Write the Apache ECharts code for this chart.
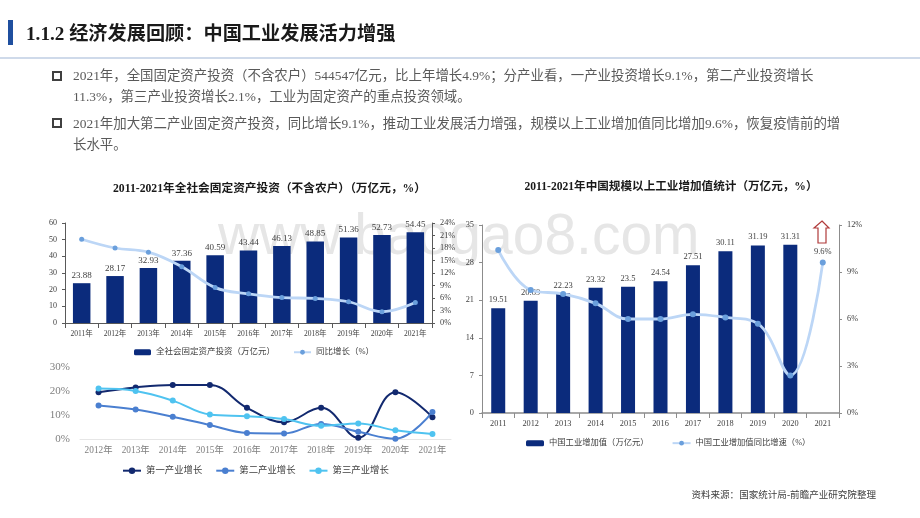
<!DOCTYPE html>
<html>
<head>
<meta charset="utf-8">
<title>经济发展回顾</title>
<script src="https://cdn.jsdelivr.net/npm/echarts@6/dist/echarts.min.js"></script>
<style>
  html, body { margin: 0; padding: 0; background: #fff; }
  #main { width: 920px; height: 518px; }
</style>
</head>
<body>
<div id="main"></div>
<script>
// 数据
var yearsInvest = ["2011年","2012年","2013年","2014年","2015年","2016年","2017年","2018年","2019年","2020年","2021年"];
var investValue = [23.88,28.17,32.93,37.36,40.59,43.44,46.13,48.85,51.36,52.73,54.45];
var investGrowth = [20.1,18.0,17.0,13.5,8.5,7.0,6.1,5.9,5.1,2.7,4.9];

var yearsSector = ["2012年","2013年","2014年","2015年","2016年","2017年","2018年","2019年","2020年","2021年"];
var sectorFirst = [19.5,21.5,22.5,22.5,13,7,13,0.5,19.5,9.1];
var sectorSecond = [14,12.3,9.3,5.8,2.5,2.3,6.3,3,0.1,11.3];
var sectorThird = [21,20,16,10.2,9.5,8.3,5.5,6.5,3.6,2.1];

var yearsIndustry = ["2011","2012","2013","2014","2015","2016","2017","2018","2019","2020","2021"];
var industryValue = [19.51,20.89,22.23,23.32,23.5,24.54,27.51,30.11,31.19,31.31,null];
var industryGrowth = [10.4,7.85,7.6,7.0,6.0,6.0,6.3,6.1,5.7,2.4,9.6];

// 全角标点
var heading = "1.1.2 经济发展回顾\uFF1A中国工业发展活力增强";
var bodyLines = [
  "2021年\uFF0C全国固定资产投资\uFF08不含农户\uFF09544547亿元\uFF0C比上年增长4.9%\uFF1B分产业看\uFF0C一产业投资增长9.1%\uFF0C第二产业投资增长",
  "11.3%\uFF0C第三产业投资增长2.1%\uFF0C工业为固定资产的重点投资领域\u3002",
  "2021年加大第二产业固定资产投资\uFF0C同比增长9.1%\uFF0C推动工业发展活力增强\uFF0C规模以上工业增加值同比增加9.6%\uFF0C恢复疫情前的增",
  "长水平\u3002"
];
var titleInvest = "2011-2021年全社会固定资产投资\uFF08不含农户\uFF09\uFF08万亿元\uFF0C%\uFF09";
var titleIndustry = "2011-2021年中国规模以上工业增加值统计\uFF08万亿元\uFF0C%\uFF09";
var sourceText = "资料来源\uFF1A国家统计局-前瞻产业研究院整理";
var nameInvest = "全社会固定资产投资\uFF08万亿元\uFF09";
var nameInvestGrowth = "同比增长\uFF08%\uFF09";
var nameIndustry = "中国工业增加值\uFF08万亿元\uFF09";
var nameIndustryGrowth = "中国工业增加值同比增速\uFF08%\uFF09";

var fontStack = '"Liberation Serif","Noto Sans CJK SC",serif';
var navy = "#0b2b7c";
var lightLine = "#bcd6f6";
var dotBlue = "#6a9fdc";

function txt(x, y, text, size, color, extra) {
  return {
    type: "text", x: x, y: y, z: 20,
    style: Object.assign({
      text: text, fontSize: size, fill: color, fontFamily: fontStack,
      textVerticalAlign: "middle", verticalAlign: "middle"
    }, extra || {})
  };
}

var graphics = [
  // 水印
  { type: "text", x: 218, y: 238, z: 0, silent: true,
    style: { text: "www.baogao8.com", fontSize: 57, fontFamily: '"Liberation Sans",sans-serif',
             fill: "#e6e6e6", verticalAlign: "middle", textVerticalAlign: "middle" } },
  { type: "rect", shape: { x: 8, y: 20, width: 5, height: 25 }, style: { fill: "#1f4f9f" } },
  { type: "rect", shape: { x: 0, y: 57, width: 920, height: 2 }, style: { fill: "#cfdaea" } },
  txt(26, 35, heading, 19.2, "#1a1a1a", { fontWeight: "bold" }),
  { type: "rect", shape: { x: 53, y: 72, width: 8, height: 8 }, style: { fill: "#fff", stroke: "#404040", lineWidth: 2 } },
  { type: "rect", shape: { x: 53, y: 119, width: 8, height: 8 }, style: { fill: "#fff", stroke: "#404040", lineWidth: 2 } },
  txt(73, 76, bodyLines[0], 13.43, "#595959"),
  txt(73, 97, bodyLines[1], 13.43, "#595959"),
  txt(73, 124, bodyLines[2], 13.43, "#595959"),
  txt(73, 145, bodyLines[3], 13.43, "#595959"),
  txt(269.5, 189, titleInvest, 11.7, "#1a1a1a", { fontWeight: "bold", align: "center", textAlign: "center" }),
  txt(671, 187, titleIndustry, 11.6, "#1a1a1a", { fontWeight: "bold", align: "center", textAlign: "center" }),
  txt(876, 495, sourceText, 9.55, "#404040", { align: "right", textAlign: "right" }),
  // 红色箭头
  { type: "polygon", z: 20,
    shape: { points: [[822,221],[829,228],[826,228],[826,243],[818,243],[818,228],[814,228]] },
    style: { fill: "#fff", stroke: "#b03a3a", lineWidth: 1.2 } }
];

function catAxis(grid, data, size, color, lineColor, extra) {
  return Object.assign({
    type: "category", gridIndex: grid, data: data,
    axisLine: { show: true, lineStyle: { color: lineColor, width: 1 } },
    axisTick: { show: true, alignWithLabel: false, lineStyle: { color: lineColor } },
    axisLabel: { fontSize: size, color: color, fontFamily: fontStack, margin: 7, interval: 0 }
  }, extra || {});
}

function valAxis(grid, max, step, fmt, size, color, lineColor, pos) {
  return {
    type: "value", gridIndex: grid, min: 0, max: max, interval: step, position: pos,
    splitLine: { show: false },
    axisLine: { show: true, lineStyle: { color: lineColor, width: 1 } },
    axisTick: { show: true, length: 3, lineStyle: { color: lineColor } },
    axisLabel: { fontSize: size, color: color, fontFamily: fontStack, margin: 8, formatter: fmt }
  };
}

function legendText(size) {
  return { fontSize: size, color: "#404040", fontFamily: fontStack };
}

function sectorLine(name, data, color) {
  return {
    name: name, type: "line", xAxisIndex: 1, yAxisIndex: 2, data: data, smooth: 0.4,
    symbol: "circle", symbolSize: 6,
    lineStyle: { color: color, width: 2 }, itemStyle: { color: color }
  };
}

var sectorAxis = valAxis(1, 30, 10, "{value}%", 11, "#7f7f7f", "#fff", "left");
sectorAxis.axisLine = { show: false };
sectorAxis.axisTick = { show: false };
sectorAxis.axisLabel.margin = 10;

var option = {
  animation: false,
  backgroundColor: "#fff",
  graphic: graphics,
  grid: [
    { left: 65, top: 223, width: 367, height: 100 },
    { left: 80, top: 367, width: 371, height: 72 },
    { left: 482, top: 225, width: 357, height: 188 }
  ],
  legend: [
    { left: 134, top: 348, padding: 0, itemWidth: 17, itemHeight: 6, itemGap: 18, textStyle: legendText(8.5),
      data: [nameInvest, nameInvestGrowth] },
    { left: 122, top: 466, padding: 0, itemWidth: 18, itemHeight: 8, itemGap: 13, textStyle: legendText(9.4),
      data: ["第一产业增长", "第二产业增长", "第三产业增长"] },
    { left: 526, top: 439, padding: 0, itemWidth: 18, itemHeight: 6, itemGap: 23, textStyle: legendText(8.3),
      data: [nameIndustry, nameIndustryGrowth] }
  ],
  xAxis: [
    catAxis(0, yearsInvest, 7.5, "#404040", "#595959"),
    catAxis(1, yearsSector, 9.3, "#7f7f7f", "#e6e6e6", { axisTick: { show: false } }),
    catAxis(2, yearsIndustry, 8.3, "#404040", "#8c8c8c", { axisLine: { lineStyle: { color: "#8c8c8c", width: 1.5 } } })
  ],
  yAxis: [
    valAxis(0, 60, 10, "{value}", 8, "#404040", "#595959", "left"),
    valAxis(0, 24, 3, "{value}%", 8.3, "#404040", "#595959", "right"),
    sectorAxis,
    valAxis(2, 35, 7, "{value}", 8.3, "#404040", "#8c8c8c", "left"),
    valAxis(2, 12, 3, "{value}%", 8.3, "#404040", "#8c8c8c", "right")
  ],
  series: [
    { name: nameInvest, type: "bar", xAxisIndex: 0, yAxisIndex: 0,
      data: investValue, barWidth: 17.5, itemStyle: { color: navy },
      label: { show: true, position: "top", distance: 3, fontSize: 9, color: "#404040", fontFamily: fontStack } },
    { name: nameInvestGrowth, type: "line", xAxisIndex: 0, yAxisIndex: 1,
      data: investGrowth, smooth: 0.4, symbol: "circle", symbolSize: 5, z: 5,
      lineStyle: { color: lightLine, width: 2.8 }, itemStyle: { color: dotBlue } },
    sectorLine("第一产业增长", sectorFirst, "#12296f"),
    sectorLine("第二产业增长", sectorSecond, "#4a7fd0"),
    sectorLine("第三产业增长", sectorThird, "#4fc3f0"),
    { name: nameIndustry, type: "bar", xAxisIndex: 2, yAxisIndex: 3,
      data: industryValue, barWidth: 14, itemStyle: { color: navy },
      label: { show: true, position: "top", distance: 4, fontSize: 8.5, color: "#404040", fontFamily: fontStack } },
    { name: nameIndustryGrowth, type: "line", xAxisIndex: 2, yAxisIndex: 4,
      data: industryGrowth, smooth: 0.4, symbol: "circle", symbolSize: 6, z: 5,
      lineStyle: { color: lightLine, width: 2.8 }, itemStyle: { color: dotBlue },
      label: { show: true, position: "top", distance: 4, fontSize: 8.5, color: "#404040", fontFamily: fontStack,
        formatter: function (p) { return p.dataIndex === 10 ? p.value + "%" : ""; } } }
  ]
};

var chart = echarts.init(document.getElementById("main"), null, { renderer: "canvas" });
chart.setOption(option);
</script>
</body>
</html>
